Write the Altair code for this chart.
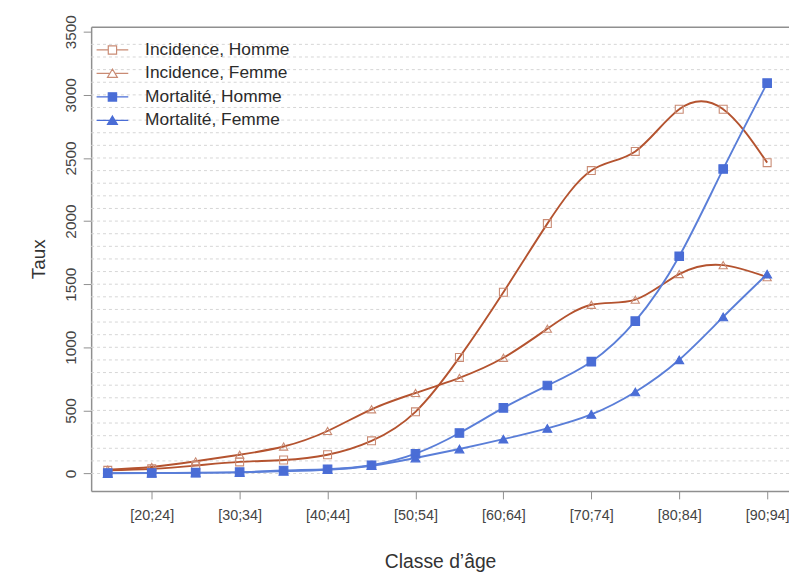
import altair as alt
import pandas as pd

# ---- data ----
categories = ["[15;19]", "[20;24]", "[25;29]", "[30;34]", "[35;39]", "[40;44]",
              "[45;49]", "[50;54]", "[55;59]", "[60;64]", "[65;69]", "[70;74]",
              "[75;79]", "[80;84]", "[85;89]", "[90;94]"]
series_names = ["Incidence, Homme", "Incidence, Femme", "Mortalité, Homme", "Mortalité, Femme"]
incidence_homme = [25, 37, 63, 92, 107, 149, 259, 489, 920, 1436, 1980, 2400, 2552, 2886, 2886, 2463]
incidence_femme = [31, 52, 97, 149, 214, 337, 509, 638, 758, 917, 1147, 1337, 1377, 1580, 1651, 1555]
mortalite_homme = [3, 4, 7, 11, 24, 34, 66, 157, 321, 520, 697, 886, 1207, 1721, 2413, 3093]
mortalite_femme = [2, 3, 5, 9, 18, 30, 62, 123, 194, 272, 358, 468, 646, 901, 1241, 1580]
y_ticks = [0, 500, 1000, 1500, 2000, 2500, 3000, 3500]
grid_values = [0, 100, 200, 300, 400, 500, 600, 700, 800, 900, 1000, 1100, 1200, 1300,
               1400, 1500, 1600, 1700, 1800, 1900, 2000, 2100, 2200, 2300, 2400, 2500,
               2600, 2700, 2800, 2900, 3000, 3100, 3200, 3300, 3400]

# ---- styles ----
line_colors = ["#B4532F", "#B4532F", "#5A7ED8", "#5A7ED8"]
marker_stroke = ["#C98B74", "#C98B74", "#4A6DD6", "#4A6DD6"]
marker_fill = ["transparent", "transparent", "#4A6DD6", "#4A6DD6"]
marker_shape = ["square", "triangle-up", "square", "triangle-up"]
marker_size = [64, 80, 64, 80]
legend_shape = [
    "M-1.6,0H-0.42M0.42,0H1.6M-0.42,-0.42H0.42V0.42H-0.42Z",
    "M-1.6,0H-0.25M0.25,0H1.6M0,-0.44L0.5,0.4H-0.5Z",
    "M-1.6,0H1.6M-0.42,-0.42H0.42V0.42H-0.42Z",
    "M-1.6,0H1.6M0,-0.44L0.5,0.4H-0.5Z",
]
frame_color = "#8f8f8f"
font = "Liberation Sans"

rows = []
for name, vals in zip(series_names, [incidence_homme, incidence_femme, mortalite_homme, mortalite_femme]):
    for i, (c, v) in enumerate(zip(categories, vals)):
        rows.append({"serie": name, "idx": i, "classe": c, "taux": v})
df = pd.DataFrame(rows)
grid_df = pd.DataFrame({"g": grid_values})

W, H = 705, 469
x_scale = alt.Scale(domain=[-0.378, 15.497], nice=False, zero=False)
y_scale = alt.Scale(domain=[-138, 3540], nice=False, zero=False)
label_expr = "[" + ",".join("'" + c + "'" for c in categories) + "][datum.value]"
x_tick_values = [i for i in range(len(categories)) if i % 2 == 1]

grid = alt.Chart(grid_df).mark_rule(color="#d6d6d6", strokeWidth=1, strokeDash=[3, 3]).encode(
    y=alt.Y("g:Q", scale=y_scale,
            axis=alt.Axis(values=y_ticks, format="d", grid=False, title="Taux", titleFont=font,
                          titleFontSize=19, titleFontWeight="normal", titleColor="#333333",
                          titlePadding=15, labelFont=font, labelFontSize=15.5,
                          labelColor="#444444", labelAngle=270, labelAlign="center",
                          labelBaseline="bottom", labelPadding=5, tickSize=8,
                          tickColor=frame_color, domainColor=frame_color, domainWidth=1.5))
)

lines = alt.Chart(df).mark_line(interpolate="natural", strokeWidth=1.9).encode(
    x=alt.X("idx:Q", scale=x_scale,
            axis=alt.Axis(values=x_tick_values, labelExpr=label_expr, grid=False,
                          title="Classe d’âge", titleFont=font, titleFontSize=19.5,
                          titleFontWeight="normal", titleColor="#333333", titlePadding=31,
                          labelFont=font, labelFontSize=14.5, labelColor="#444444",
                          labelPadding=10, tickSize=8, tickColor=frame_color,
                          domainColor=frame_color, domainWidth=1.5)),
    y=alt.Y("taux:Q", scale=y_scale, axis=None),
    color=alt.Color("serie:N", scale=alt.Scale(domain=series_names, range=line_colors), legend=None),
    detail="serie:N",
)

points = alt.Chart(df).mark_point(filled=True, strokeWidth=1.1, opacity=1).encode(
    x=alt.X("idx:Q", scale=x_scale, axis=None),
    y=alt.Y("taux:Q", scale=y_scale, axis=None),
    shape=alt.Shape("serie:N", scale=alt.Scale(domain=series_names, range=marker_shape), legend=None),
    stroke=alt.Stroke("serie:N", scale=alt.Scale(domain=series_names, range=marker_stroke), legend=None),
    fill=alt.Fill("serie:N", scale=alt.Scale(domain=series_names, range=marker_fill), legend=None),
    size=alt.Size("serie:N", scale=alt.Scale(domain=series_names, range=marker_size), legend=None),
)

leg = alt.Legend(title=None, orient="none", legendX=10.5, legendY=12.5, symbolSize=400,
                 symbolStrokeWidth=1.2, labelFont=font, labelFontSize=17.5, labelColor="#2b2b2b",
                 labelOffset=22, rowPadding=3.7, padding=0, symbolOpacity=1)

legend_layer = alt.Chart(df).transform_filter("false").mark_point(
    filled=True, size=400, strokeWidth=1.2, opacity=1).encode(
    x=alt.X("idx:Q", scale=x_scale,
            axis=alt.Axis(orient="top", labels=False, ticks=False, grid=False, title=None,
                          domainColor=frame_color, domainWidth=1.5)),
    y=alt.Y("taux:Q", scale=y_scale, axis=None),
    shape=alt.Shape("serie:N", scale=alt.Scale(domain=series_names, range=legend_shape), legend=leg),
    stroke=alt.Stroke("serie:N", scale=alt.Scale(domain=series_names, range=marker_stroke), legend=leg),
    fill=alt.Fill("serie:N", scale=alt.Scale(domain=series_names, range=marker_fill), legend=leg),
)

chart = alt.layer(grid, lines, points, legend_layer).resolve_scale(
    shape="independent", stroke="independent", fill="independent"
).resolve_axis(x="independent", y="independent").properties(
    width=W, height=H,
    padding={"left": 84, "top": 16, "right": 0, "bottom": 80},
    autosize=alt.AutoSizeParams(type="none"),
    background="white",
).configure_view(stroke=None)

chart.save("out.html", embed_options={"renderer": "svg", "actions": False})
